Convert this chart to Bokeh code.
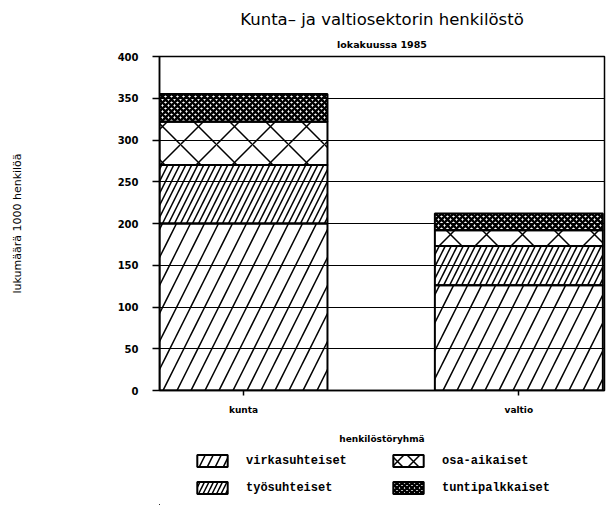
from bokeh.plotting import figure
from bokeh.layouts import column
from bokeh.models import ColumnDataSource, Range1d, FixedTicker, Title, Legend, LegendItem
from bokeh.embed import file_html
from bokeh.resources import INLINE

# ---- data ----
categories = ["kunta", "valtio"]
cat_pos = [1, 2]
virkasuhteiset = [200, 126]
tyosuhteiset = [70, 47]
osa_aikaiset = [52, 19]
tuntipalkkaiset = [33, 20]
series_names = ["virkasuhteiset", "työsuhteiset", "osa-aikaiset", "tuntipalkkaiset"]
y_ticks = [0, 50, 100, 150, 200, 250, 300, 350, 400]

stackers = ["virka", "tyo", "osa", "tunti"]
src = ColumnDataSource(dict(x=cat_pos, virka=virkasuhteiset, tyo=tyosuhteiset,
                            osa=osa_aikaiset, tunti=tuntipalkkaiset))

patterns = ["right_diagonal_line", "right_diagonal_line", "diagonal_cross", "diagonal_cross"]

p = figure(width=608, height=448, output_backend="svg", toolbar_location=None,
           title=None,
           x_range=Range1d(0.695, 2.311), y_range=Range1d(0, 400),
           min_border_left=159, min_border_right=4, min_border_top=56,
           min_border_bottom=58)

renderers = p.vbar_stack(
    stackers, x="x", width=0.61, source=src,
    fill_color=None, line_color="black", line_width=2,
    hatch_pattern=patterns,
    hatch_scale=[28, 12, 36, 6],
    hatch_weight=[1.5, 1.5, 1.5, 2.5],
    hatch_color="black")

# grid / outline
p.xgrid.visible = False
p.ygrid.ticker = FixedTicker(ticks=y_ticks)
p.ygrid.grid_line_color = "black"
p.ygrid.grid_line_width = 1.2
p.ygrid.grid_line_alpha = 1
p.outline_line_color = "black"
p.outline_line_width = 1.5
p.outline_line_alpha = 1

# y axis
ya = p.yaxis[0]
ya.ticker = FixedTicker(ticks=y_ticks)
ya.major_tick_out = 7
ya.major_tick_in = 0
ya.minor_tick_out = 0
ya.minor_tick_in = 0
ya.major_tick_line_width = 1.5
ya.axis_line_width = 1.5
ya.major_label_standoff = 14
ya.major_label_text_color = "black"
ya.major_label_text_font = "DejaVu Sans"
ya.major_label_text_font_style = "bold"
ya.major_label_text_font_size = "10px"
ya.axis_label = "lukumäärä 1000 henkilöä"
ya.axis_label_text_color = "black"
ya.axis_label_text_font = "DejaVu Sans"
ya.axis_label_text_font_style = "normal"
ya.axis_label_text_font_size = "11px"
ya.axis_label_standoff = 91

# x axis
xa = p.xaxis[0]
xa.ticker = FixedTicker(ticks=cat_pos)
xa.major_label_overrides = {cat_pos[i]: categories[i] for i in range(len(categories))}
xa.major_tick_out = 5
xa.major_tick_in = 0
xa.minor_tick_out = 0
xa.minor_tick_in = 0
xa.major_tick_line_width = 1.5
xa.axis_line_width = 1.5
xa.major_label_standoff = 9
xa.major_label_text_color = "black"
xa.major_label_text_font = "DejaVu Sans"
xa.major_label_text_font_style = "bold"
xa.major_label_text_font_size = "9px"
xa.axis_label = "henkilöstöryhmä"
xa.axis_label_text_color = "black"
xa.axis_label_text_font = "DejaVu Sans"
xa.axis_label_text_font_style = "bold"
xa.axis_label_text_font_size = "9px"
xa.axis_label_standoff = 16

# titles (first added = closest to frame)
p.add_layout(Title(text="lokakuussa 1985", align="center", text_font="DejaVu Sans",
                   text_color="black", text_font_style="bold", text_font_size="9.5px",
                   standoff=13), "above")
p.add_layout(Title(text="Kunta– ja valtiosektorin henkilöstö", align="center",
                   text_color="black", text_font="DejaVu Sans", text_font_style="normal",
                   text_font_size="16.5px", standoff=3), "above")

# ---- legend strip (separate figure so the legend is not clipped) ----
p2 = figure(width=608, height=57, output_backend="svg", toolbar_location=None,
            title=None, x_axis_location=None, y_axis_location=None,
            x_range=Range1d(10, 11), y_range=Range1d(1000, 1001),
            min_border_left=0, min_border_right=0, min_border_top=0, min_border_bottom=0)
p2.grid.visible = False
p2.outline_line_color = None
leg_renderers = p2.vbar_stack(
    stackers, x="x", width=0.61, source=src,
    fill_color=None, line_color="black", line_width=2,
    hatch_pattern=patterns,
    hatch_scale=[16, 9, 16, 5],
    hatch_weight=[1.5, 1.5, 1.5, 2.5],
    hatch_color="black")

items = [LegendItem(label=n, renderers=[r]) for n, r in zip(series_names, leg_renderers)]
legend = Legend(items=items, location=(34, 10), orientation="vertical", nrows=2,
                glyph_width=38, glyph_height=15, label_height=15, label_width=131,
                spacing=12, label_standoff=15, padding=0, margin=0,
                border_line_alpha=0, background_fill_alpha=0,
                label_text_color="black",
                label_text_font="Liberation Mono", label_text_font_style="bold",
                label_text_font_size="12px")
p2.add_layout(legend, "center")

layout = column(p, p2, spacing=0)
open("out.html", "w").write(file_html(layout, INLINE))
